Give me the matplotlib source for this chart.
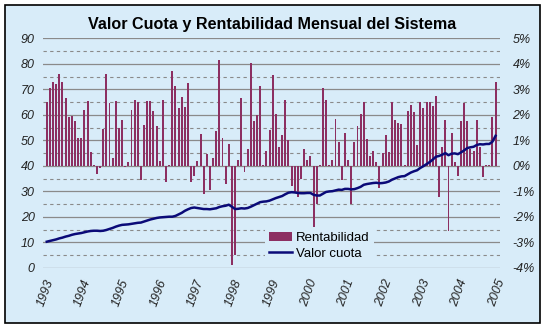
import numpy as np
import matplotlib.pyplot as plt
from matplotlib.patches import Rectangle

plt.rcParams['font.family'] = ['Liberation Sans', 'DejaVu Sans']

# monthly data, Jan 1993 .. Dec 2004
rentabilidad = [
    2.5, 3.05, 3.3, 3.2, 3.6, 3.3, 2.65, 1.9, 1.95, 1.75, 1.1, 1.1,
    2.2, 2.55, 0.55, 0.05, -0.3, -0.1, 1.45, 3.6, 2.45, 0.3, 2.55, 1.5,
    1.8, -0.05, 0.15, 2.2, 2.6, 2.5, -0.55, 1.6, 2.55, 2.55, 2.15, 1.55,
    0.2, 2.6, -0.65, 0.05, 3.7, 3.15, 2.25, 2.7, 2.3, 3.25, -0.65, -0.4,
    0.2, 1.25, -1.1, 0.45, -0.95, 0.3, 1.35, 4.15, 1.1, -0.7, 0.85, -3.9,
    -3.5, 0.25, 2.65, -0.25, 0.65, 4.05, 1.75, 2.0, 3.15, 0.05, 0.6, 1.4,
    3.55, 2.05, 0.75, 1.2, 2.6, 1.0, -0.8, -1.05, -1.2, -0.5, 0.65, 0.25,
    0.4, -2.4, -1.5, 0.05, 3.05, 2.6, 0.05, 0.25, 1.85, 0.95, -0.55, 1.3,
    0.25, -1.5, 0.95, 1.55, 2.05, 2.5, 1.05, 0.4, 0.6, 0.15, -0.85, 0.5,
    1.2, 0.55, 2.5, 1.8, 1.7, 1.65, 0.05, 2.15, 2.4, 2.1, 0.8, 2.5,
    2.25, 2.5, 2.5, 2.35, 2.75, -1.2, 0.75, 1.8, -2.55, 1.3, 0.15, -0.4,
    1.75, 2.45, 1.75, 0.65, 0.6, 1.8, 0.75, -0.45, 0.05, 0.05, 1.9, 3.3,
]
valor_cuota = [
    10.3, 10.6, 10.9, 11.2, 11.6, 11.9, 12.3, 12.6, 13.0, 13.3, 13.5, 13.7,
    14.0, 14.3, 14.5, 14.6, 14.6, 14.5, 14.6, 14.9, 15.3, 15.7, 16.2, 16.6,
    16.9, 17.0, 17.1, 17.3, 17.5, 17.7, 17.8, 18.2, 18.6, 19.0, 19.3, 19.6,
    19.8, 19.9, 20.0, 20.1, 20.1, 20.4, 21.0, 21.6, 22.4, 23.0, 23.5, 23.7,
    23.5, 23.3, 23.1, 23.1, 23.0, 23.2, 23.4, 23.9, 24.2, 24.4, 24.8, 24.0,
    23.1, 23.2, 23.4, 23.3, 23.5, 24.0, 24.6, 25.2, 25.8, 26.0, 26.1, 26.4,
    26.9, 27.4, 27.8, 28.2, 28.9, 29.5, 29.7, 29.6, 29.4, 29.3, 29.3, 29.4,
    29.4, 28.7, 28.4, 28.4, 29.1, 29.8, 30.0, 30.1, 30.4, 30.7, 30.6, 31.0,
    31.0, 30.8, 30.9, 31.3, 31.8, 32.6, 32.9, 33.1, 33.3, 33.4, 33.2, 33.3,
    33.5, 33.9, 34.6, 35.1, 35.6, 35.9, 36.0, 36.7, 37.4, 37.9, 38.3, 39.2,
    39.9, 40.7, 41.5, 42.5, 43.6, 43.9, 44.4, 45.0, 44.2, 44.8, 44.9, 44.6,
    45.3, 46.1, 47.0, 47.3, 47.5, 48.2, 48.5, 48.4, 48.6, 48.6, 49.5, 51.8,
]
years = [str(y) for y in range(1993, 2006)]

bar_color = '#8c2f62'
line_color = '#0a0a78'
bg_color = '#d8ecf9'

fig = plt.figure(figsize=(5.49, 3.32), dpi=100, facecolor='white')
fig.patches.append(Rectangle((5 / 549, 9 / 332), 535 / 549, 318 / 332,
                             transform=fig.transFigure, facecolor=bg_color,
                             edgecolor='black', linewidth=1.2, zorder=-5))

ax = fig.add_axes([0.0783, 0.1928, 0.8324, 0.6918])
ax.set_facecolor('none')
ax2 = ax.twinx()
ax2.set_facecolor('none')

x = np.arange(len(rentabilidad))

# bars on the percent scale (right axis)
ax.bar(x, rentabilidad, width=0.62, color=bar_color, zorder=3, label='Rentabilidad')
ax.set_ylim(-4, 5)
ax.set_xlim(-1.2, 144.4)
for v in range(-4, 6):
    ax.axhline(v, color='#8a8a8a', lw=0.9, zorder=1)
for v in np.arange(-3.5, 5, 1):
    ax.axhline(v, color='#8a8a8a', lw=0.8, ls=(0, (3, 3)), zorder=1)
ax.yaxis.tick_right()
ax.set_yticks(range(-4, 6))
ax.set_yticklabels([f'{v}%' for v in range(-4, 6)])

# valor cuota on the left axis
ax2.plot(x, valor_cuota, color=line_color, lw=1.8, label='Valor cuota', zorder=4)
ax2.set_ylim(0, 90)
ax2.yaxis.tick_left()
ax2.set_yticks(range(0, 91, 10))

ax.set_xticks(np.arange(0, 145, 12) - 0.5)
ax.set_xticklabels(years, rotation=70, ha='center', va='top', fontstyle='italic', fontsize=8.5)

for a in (ax, ax2):
    for s in a.spines.values():
        s.set_visible(False)
    a.tick_params(length=0, labelsize=9, colors='#222222')
    for t in a.get_yticklabels():
        t.set_fontstyle('italic')
ax.tick_params(axis='y', pad=9)
ax2.tick_params(axis='y', pad=6)
ax.tick_params(axis='x', pad=7)

fig.text(0.495, 0.925, 'Valor Cuota y Rentabilidad Mensual del Sistema',
         ha='center', va='center', fontsize=11.6, fontweight='bold')

h1, l1 = ax.get_legend_handles_labels()
h2, l2 = ax2.get_legend_handles_labels()
leg = ax2.legend(h1 + h2, l1 + l2, loc='upper left', bbox_to_anchor=(258 / 549, 1 - 221 / 332),
                 bbox_transform=fig.transFigure, frameon=True, fontsize=9.5,
                 handlelength=1.8, handletextpad=0.3, labelspacing=0.3, borderpad=0.3)
leg.get_frame().set_facecolor(bg_color)
leg.get_frame().set_edgecolor('none')
leg.get_frame().set_alpha(1)

fig.savefig('out.png', dpi=100)
